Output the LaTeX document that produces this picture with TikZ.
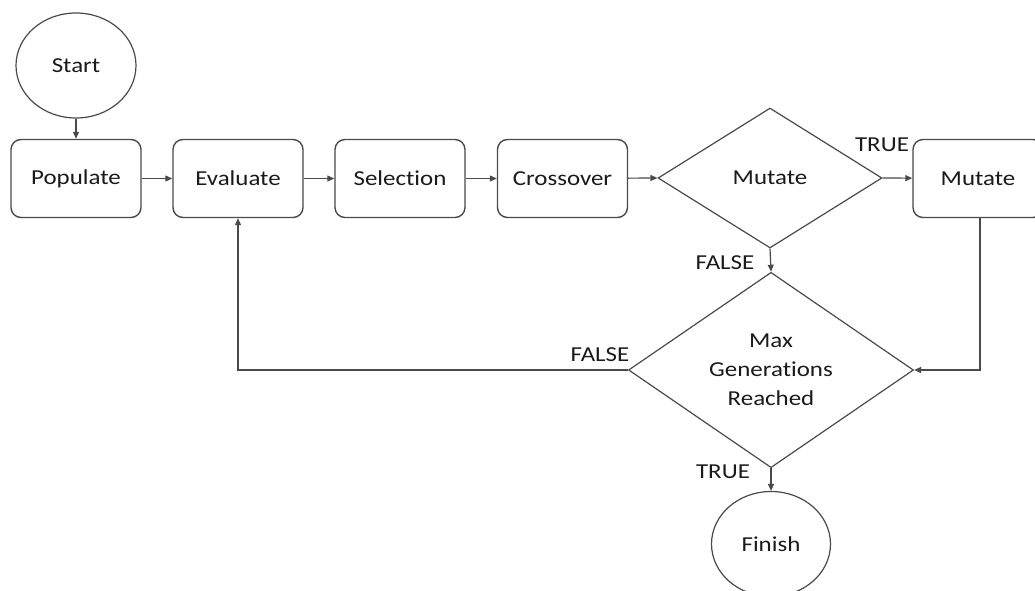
\documentclass[tikz,border=0pt]{standalone}
\usepackage{fontspec}
\setmainfont[FakeStretch=1.17,Ligatures=NoCommon]{Carlito}
\usetikzlibrary{shapes.geometric,arrows.meta}
\definecolor{ln}{HTML}{4A4A4A}
\definecolor{tx}{HTML}{1A1A1A}
\tikzset{
  every node/.style={font=\fontsize{21.3}{29}\selectfont, text=tx},
  procbox/.style={draw=ln, line width=1.4pt, rounded corners=10pt, minimum width=130pt, minimum height=78pt, inner sep=0pt},
  termnode/.style={draw=ln, line width=1.2pt, ellipse, minimum width=120pt, minimum height=105pt, inner sep=0pt},
  decnode/.style={draw=ln, line width=1.2pt, diamond, inner sep=0pt, align=center},
  conn/.style={draw=ln, line width=1.2pt, -{Triangle[length=7pt,width=6pt]}},
  lbl/.style={inner sep=0pt}
}
\begin{document}
\begin{tikzpicture}[x=1pt,y=-1pt]
\clip (0,0) rectangle (1035,591);
\fill[white] (0,0) rectangle (1035,591);
\node[termnode] (start) at (76,65.5) {Start};
\node[procbox] (pop) at (76,178.5) {Populate};
\node[procbox] (eval) at (238,178.5) {Evaluate};
\node[procbox] (sel) at (400,178.5) {Selection};
\node[procbox] (cross) at (562.5,178.5) {Crossover};
\node[decnode, minimum width=224pt, minimum height=140pt] (mutd) at (770,178) {Mutate};
\node[procbox] (mutb) at (978,178.5) {Mutate};
\node[decnode, minimum width=285pt, minimum height=164pt] (maxd) at (771,370) {Max\\Generations\\Reached};
\node[termnode, minimum width=119pt] (fin) at (771,544) {Finish};
\coordinate (mr) at (980,370);
\coordinate (ml) at (238,370);
\draw[conn] (start) -- (pop);
\draw[conn] (pop) -- (eval);
\draw[conn] (eval) -- (sel);
\draw[conn] (sel) -- (cross);
\draw[conn] (cross) -- (mutd.west);
\draw[conn] (mutd.east) -- (mutb);
\draw[conn] (mutd.south) -- (maxd.north);
\draw[conn] (mutb.south -| mr) -- (mr) -- (maxd.east);
\draw[conn] (maxd.west) -- (ml) -- (eval.south);
\draw[conn] (maxd.south) -- (fin.north);
\node[lbl] (t1) at (882,145) {TRUE};
\node[lbl] (f1) at (725,263) {FALSE};
\node[lbl] (f2) at (600,355) {FALSE};
\node[lbl] (t2) at (723,472) {TRUE};
\end{tikzpicture}
\end{document}
